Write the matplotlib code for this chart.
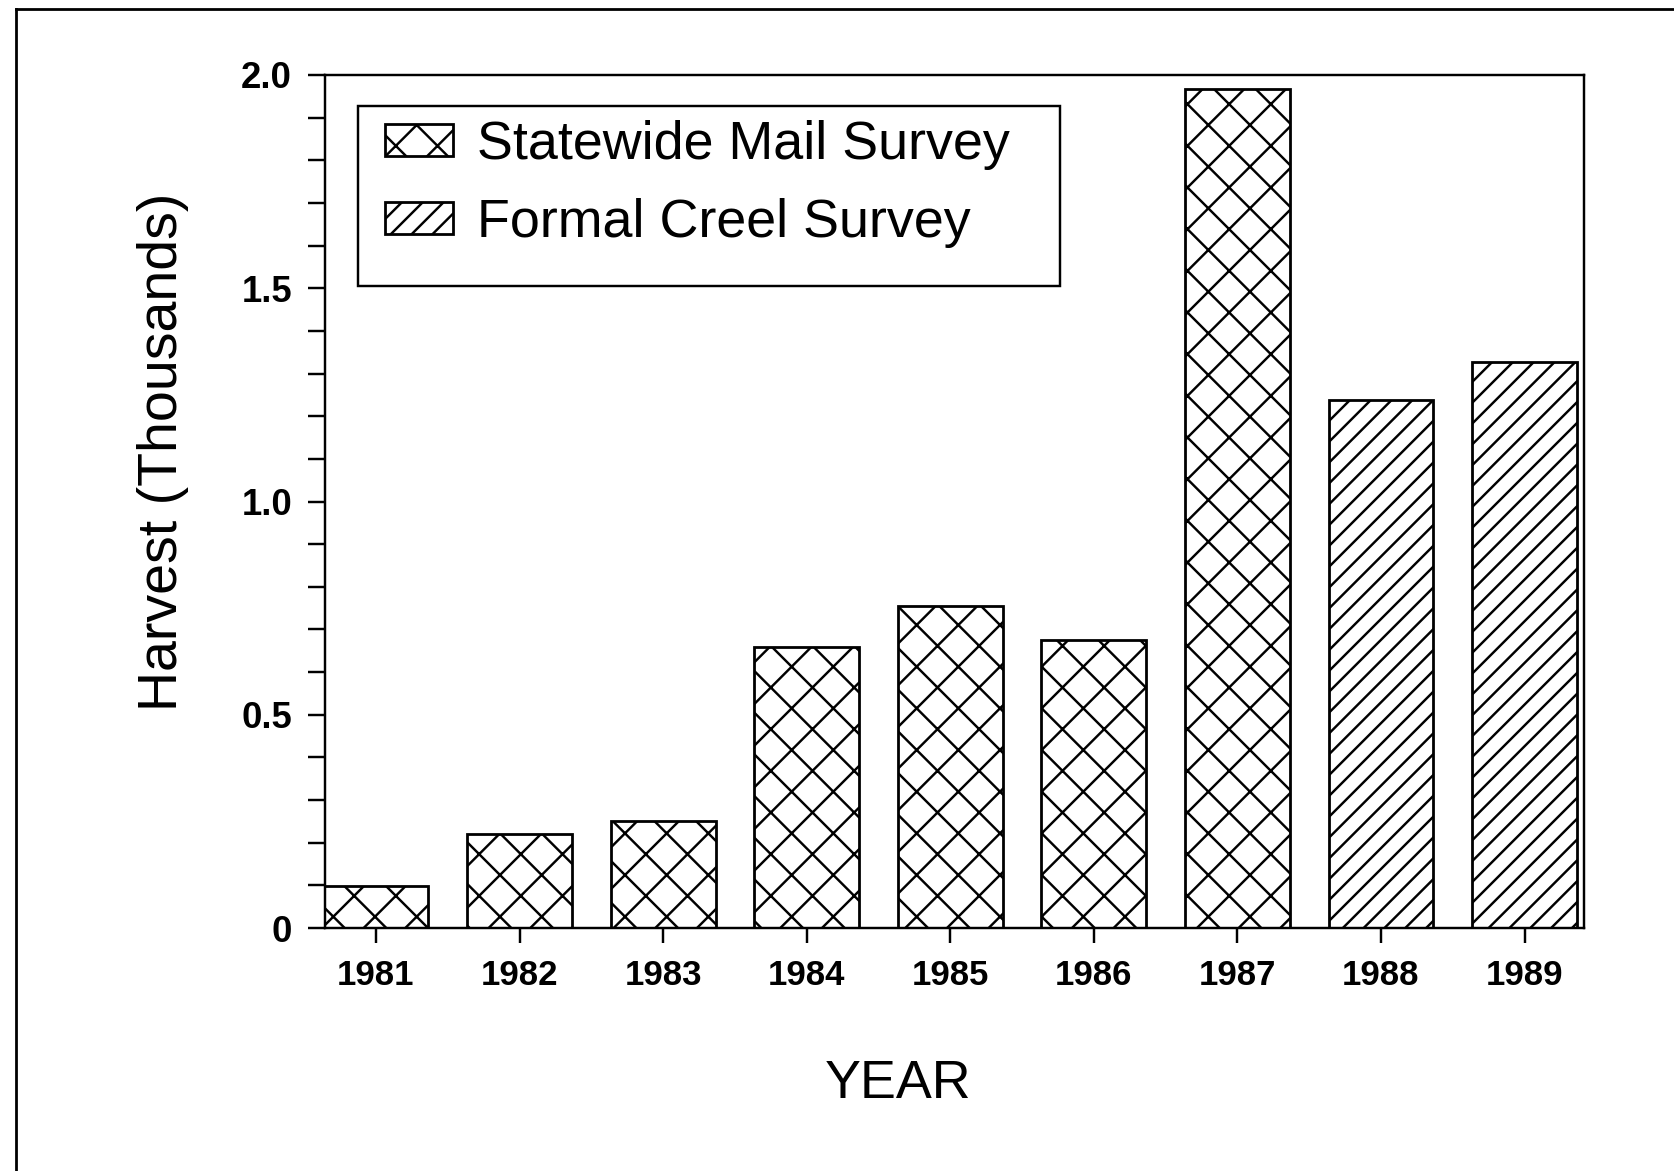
import matplotlib
matplotlib.use("Agg")
import matplotlib.pyplot as plt
from matplotlib.lines import Line2D
from matplotlib.patches import Rectangle

# harvest in thousands
mail_years = [1981, 1982, 1983, 1984, 1985, 1986, 1987]
mail_harvest = [0.098, 0.221, 0.251, 0.659, 0.754, 0.676, 1.968]
creel_years = [1988, 1989]
creel_harvest = [1.237, 1.327]
all_years = mail_years + creel_years
y_ticks = [0, 0.5, 1.0, 1.5, 2.0]
y_tick_labels = ["0", "0.5", "1.0", "1.5", "2.0"]

# high dpi so the hatch pattern comes out as coarse as in the scan
DPI = 250
plt.rcParams["font.family"] = ["Liberation Sans", "DejaVu Sans"]
plt.rcParams["hatch.linewidth"] = 0.7
plt.rcParams["hatch.color"] = "black"

fig = plt.figure(figsize=(1674 / DPI, 1171 / DPI), dpi=DPI)
ax = fig.add_axes([325 / 1674, 1 - 928 / 1171, 1259 / 1674, 853 / 1171])

ax.bar(mail_years, mail_harvest, width=0.73, color="white", edgecolor="black",
       linewidth=0.8, hatch="xx", label="Statewide Mail Survey")
ax.bar(creel_years, creel_harvest, width=0.73, color="white", edgecolor="black",
       linewidth=0.8, hatch="////", label="Formal Creel Survey")

ax.set_xlim(1980.645, 1989.414)
ax.set_ylim(0, 2.0)
for s in ax.spines.values():
    s.set_linewidth(0.7)

ax.set_xticks(all_years)
ax.set_xticklabels([str(y) for y in all_years], fontsize=10, fontweight="bold")
ax.set_yticks(y_ticks)
ax.set_yticklabels(y_tick_labels, fontsize=10.5, fontweight="bold")
ax.set_yticks([i / 10 for i in range(21)], minor=True)
ax.tick_params(axis="x", direction="out", length=4.3, width=0.7, pad=4.5)
ax.tick_params(axis="y", which="both", direction="out", length=5, width=0.7, pad=4.5)

ax.set_xlabel("YEAR", fontsize=15.5, va="center")
ax.xaxis.set_label_coords(0.455, -0.183)
ax.set_ylabel("Harvest (Thousands)", fontsize=16, va="center")
ax.yaxis.set_label_coords(-0.129, 0.558)

leg = ax.legend(loc="upper left", bbox_to_anchor=(0.0477, 0.947), frameon=False,
                fontsize=15.5, borderpad=0, borderaxespad=0, handlelength=1.26,
                handleheight=0.52, handletextpad=0.45, labelspacing=0.52)
# legend box, drawn apart so its padding can follow the scan
ax.add_patch(Rectangle((0.026, 0.753), 0.558, 0.211, transform=ax.transAxes,
                       facecolor="none", edgecolor="black", linewidth=0.7, zorder=4))

# frame round the whole figure (only top and left edges survive in the scan)
fx = 16 / 1674
fy = 1 - 9 / 1171
fig.add_artist(Line2D([fx, fx], [0, fy], color="black", linewidth=0.8))
fig.add_artist(Line2D([fx, 1], [fy, fy], color="black", linewidth=0.8))

fig.savefig("out.png", dpi=DPI)
